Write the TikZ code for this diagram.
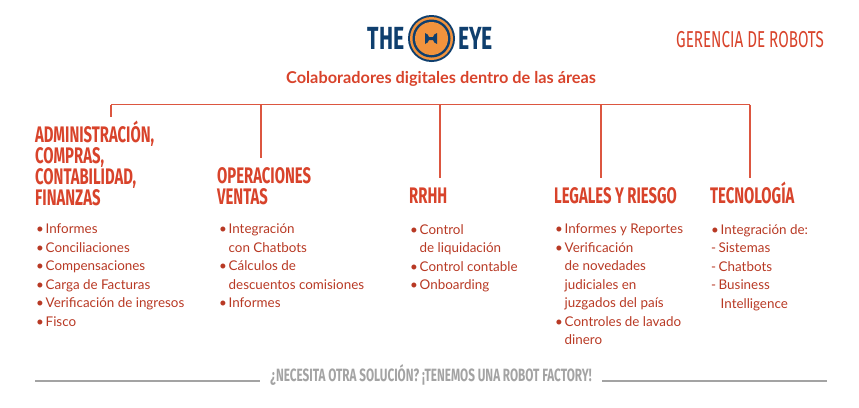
\documentclass[tikz,border=0pt]{standalone}
\usepackage{xcolor}
\usepackage{fontspec}
\usetikzlibrary{positioning}
\setmainfont{Lato}
\newfontfamily\headfont[FakeStretch=0.66]{Fira Sans}
\definecolor{robotred}{HTML}{D8432B}
\definecolor{eyeblue}{HTML}{0F3F6E}
\definecolor{eyeorange}{HTML}{F2933D}
\definecolor{footgray}{HTML}{A3A3A3}
\newcommand{\itm}[1]{\makebox[9.5pt][l]{\textbullet}#1}
\newcommand{\gap}{\hspace*{9.5pt}}
\newcommand{\dsh}[1]{\makebox[7.5pt][l]{-}#1}
\newcommand{\hst}{\rule{0pt}{22pt}}
\tikzset{
    headbox/.style={anchor=north west, inner sep=0pt, outer ysep=3pt, align=left, text=robotred, font=\headfont\bfseries\fontsize{22.5}{21}\selectfont},
    listbox/.style={anchor=north west, inner sep=0pt, align=left, text=robotred!85!black, font=\fontsize{13.4}{18.5}\selectfont},
    busline/.style={draw=robotred!90, line width=1.5pt},
    footline/.style={draw=footgray, line width=2pt},
    logotext/.style={text=eyeblue, inner sep=0pt, font=\headfont\bfseries\fontsize{32}{32}\selectfont}
}

\begin{document}
\begin{tikzpicture}[x=1pt, y=-1pt]
        \useasboundingbox (0,0) rectangle (859,407);

        % Logo
        \fill[eyeblue] (431.5,38.5) circle (23.5);
        \fill[eyeorange] (431.5,38.5) circle (21.5);
        \fill[eyeblue] (431.5,38.5) circle (19);
        \fill[eyeorange] (431.5,38.5) circle (16.5);
        \fill[eyeblue] (425,33) .. controls (428,33) and (428,36) .. (429,37) -- (433,37) .. controls (434,36) and (434,33) .. (437,33) -- (437,44) .. controls (434,44) and (434,41) .. (433,40) -- (429,40) .. controls (428,41) and (428,44) .. (425,44) -- cycle;
        \node[logotext] (the) at (386,38) {THE};
        \node[logotext] (eye) at (475.5,38) {EYE};

        \node[text=robotred, inner sep=0pt, font=\headfont\fontsize{23}{23}\selectfont] (gerencia) at (750,40) {GERENCIA DE ROBOTS};
        \node[text=robotred, inner sep=0pt, font=\bfseries\fontsize{16.3}{16}\selectfont] (title) at (441,79) {Colaboradores digitales dentro de las áreas};

        % Areas
        \node[headbox] (admin) at (35,117) {\hst ADMINISTRACIÓN,\\COMPRAS,\\CONTABILIDAD,\\FINANZAS};
        \node[headbox] (oper) at (217,158) {\hst OPERACIONES\\VENTAS};
        \node[headbox] (rrhh) at (409,178) {\hst RRHH};
        \node[headbox] (legal) at (554,178) {\hst LEGALES Y RIESGO};
        \node[headbox] (tecno) at (710,178) {\hst TECNOLOGÍA};

        % Lists
        \node[listbox] (adminlist) at (36,224) {\itm{Informes}\\\itm{Conciliaciones}\\\itm{Compensaciones}\\\itm{Carga de Facturas}\\\itm{Verificación de ingresos}\\\itm{Fisco}};
        \node[listbox] (operlist) at (219,224) {\itm{Integración}\\\gap con Chatbots\\\itm{Cálculos de}\\\gap descuentos comisiones\\\itm{Informes}};
        \node[listbox] (rrhhlist) at (410,224) {\itm{Control}\\\gap de liquidación\\\itm{Control contable}\\\itm{Onboarding}};
        \node[listbox] (legallist) at (555,224) {\itm{Informes y Reportes}\\\itm{Verificación}\\\gap de novedades\\\gap judiciales en\\\gap juzgados del país\\\itm{Controles de lavado}\\\gap dinero};
        \node[listbox] (tecnolist) at (711,224) {\itm{Integración de:}\\\dsh{Sistemas}\\\dsh{Chatbots}\\\dsh{Business}\\\gap Intelligence};

        % Bus
        \coordinate (busa) at (111,104.5);
        \coordinate (busb) at (261,104.5);
        \coordinate (busc) at (440,104.5);
        \coordinate (busd) at (601,104.5);
        \coordinate (buse) at (750,104.5);
        \draw[busline] (busa) -- (buse);
        \draw[busline] (busa) -- (busa |- admin.north);
        \draw[busline] (busb) -- (busb |- oper.north);
        \draw[busline] (busc) -- (busc |- rrhh.north);
        \draw[busline] (busd) -- (busd |- legal.north);
        \draw[busline] (buse) -- (buse |- tecno.north);

        % Footer
        \node[text=footgray, inner sep=0pt, outer xsep=10pt, font=\headfont\bfseries\fontsize{17.8}{18}\selectfont] (foot) at (431,375) {¿NECESITA OTRA SOLUCIÓN? ¡TENEMOS UNA ROBOT FACTORY!};
        \coordinate (foota) at (35,380.5);
        \coordinate (footb) at (827,380.5);
        \draw[footline] (foota) -- (foota -| foot.west);
        \draw[footline] (footb) -- (footb -| foot.east);
\end{tikzpicture}
\end{document}
